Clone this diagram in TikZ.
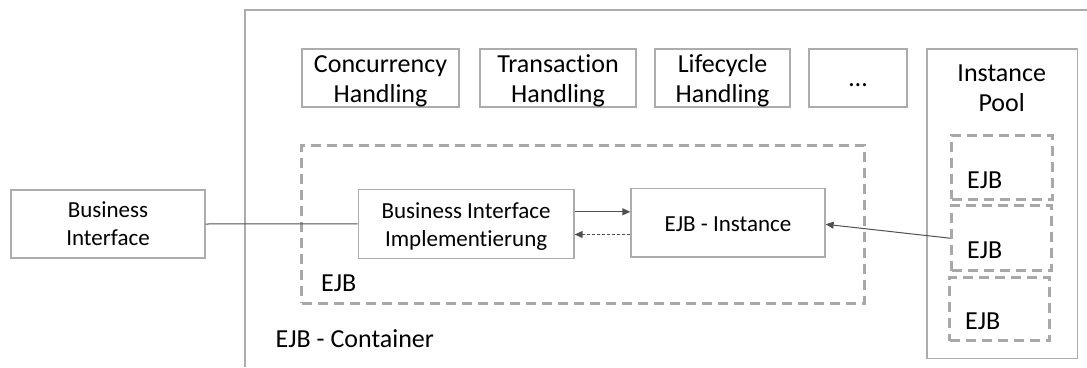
\documentclass[tikz,border=0pt]{standalone}
\usepackage{fontspec}
\setmainfont[Ligatures=NoCommon]{Carlito}
\usetikzlibrary{arrows.meta}
\definecolor{framegray}{RGB}{172,172,172}
\definecolor{dashgray}{RGB}{168,168,168}
\definecolor{wiregray}{RGB}{80,80,80}
% invisible strut that sets the height of a first text line
\newcommand{\firstline}[1]{\rule{0pt}{#1}}
\begin{document}
\begin{tikzpicture}[x=1pt,y=-1pt,
  box/.style={draw=framegray, line width=1.3pt, fill=white, inner sep=0pt,
              align=center, text=black},
  bigtxt/.style={font=\fontsize{26}{30.5}\selectfont},
  smalltxt/.style={font=\fontsize{23}{28}\selectfont},
  dashbox/.style={draw=dashgray, line width=3pt, dash pattern=on 10pt off 6pt,
                  inner sep=0pt},
  wire/.style={draw=wiregray, line width=1pt},
  arr/.style={wire, -{Triangle[length=8pt,width=7pt]}},
  caption/.style={anchor=base west, inner sep=0pt,
                  font=\fontsize{26}{30.5}\selectfont}]
\useasboundingbox (0,0) rectangle (1087,367);

% container frame (runs past the right and bottom edges)
\draw[framegray, line width=1.3pt] (245,367) -- (245,10) -- (1087,10);

% client side
\node[box, smalltxt, minimum width=194pt, minimum height=68pt] (bi) at (108,224)
  {Business\\Interface};

% container services
\node[box, bigtxt, minimum width=157pt, minimum height=58pt] (conc) at (380.5,78)
  {\firstline{23pt}Concurrency\\Handling};
\node[box, bigtxt, minimum width=156pt, minimum height=58pt] (trans) at (558,78)
  {\firstline{23pt}Transaction\\Handling};
\node[box, bigtxt, minimum width=135pt, minimum height=58pt] (life) at (722.5,78)
  {\firstline{23pt}Lifecycle\\Handling};
\node[box, bigtxt, minimum width=98pt, minimum height=58pt] (more) at (858,78)
  {\firstline{18pt}…};

% instance pool
\node[box, minimum width=150.5pt, minimum height=309.3pt] (pool) at (1002.2,203.7) {};
\node[inner sep=0pt, align=center, bigtxt] (pooltitle) at (1001.7,88) {Instance\\Pool};
\node[dashbox, minimum width=100.5pt, minimum height=64.3pt] (p1) at (1001.8,167.2) {};
\node[dashbox, minimum width=99.5pt, minimum height=65.5pt] (p2) at (1001.3,238.2) {};
\node[dashbox, minimum width=100pt, minimum height=63.3pt] (p3) at (999.5,309.2) {};
\node[caption] (p1lbl) at (967,188.3) {EJB};
\node[caption] (p2lbl) at (967,258.3) {EJB};
\node[caption] (p3lbl) at (965,329.3) {EJB};

% the bean itself
\node[dashbox, minimum width=562.6pt, minimum height=158.3pt] (ejb) at (583,224.2) {};
\node[caption] (ejblbl) at (321,291.7) {EJB};
\node[caption] (contlbl) at (275.5,347) {EJB - Container};

\node[box, smalltxt, minimum width=215.8pt, minimum height=69pt] (bii) at (466.1,223.8)
  {\firstline{22pt}Business Interface\\Implementierung};
\node[box, smalltxt, minimum width=194pt, minimum height=68.5pt] (inst) at (728,222.8)
  {\firstline{18pt}EJB - Instance};

% connectors
\draw[wire] (bi.east) -- (bii.west);
\draw[arr] ([yshift=12pt]bii.east) -- ([yshift=12pt]bii.east -| inst.west);
\draw[arr, dash pattern=on 3pt off 2pt] ([yshift=-10.7pt]bii.east -| inst.west) -- ([yshift=-10.7pt]bii.east);
\draw[arr] (p2.west) -- ([yshift=-1.5pt]inst.east);
\end{tikzpicture}
\end{document}
